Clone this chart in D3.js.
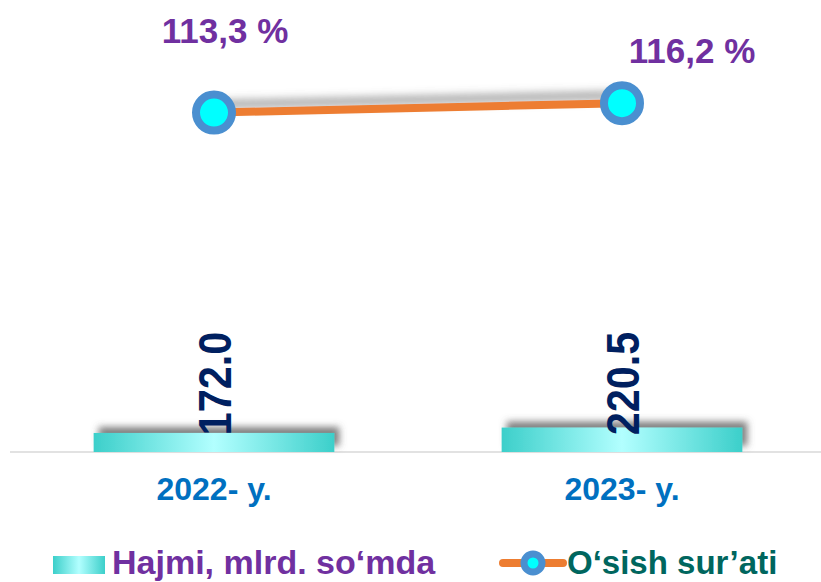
<!DOCTYPE html>
<html>
<head>
<meta charset="utf-8">
<script src="https://cdn.jsdelivr.net/npm/d3@7"></script>
<style>
  body { margin: 0; background: #fff; }
  text { font-family: "Liberation Sans", Arial, sans-serif; font-weight: bold; }
</style>
</head>
<body>
<div id="chart"></div>
<script>
let width = 821,
  height = 582

// data
let years = ['2022- y.', '2023- y.']
let volume = [172.0, 220.5]          // Hajmi, mlrd. so'mda
let growth = [113.3, 116.2]          // O'sish sur'ati, %
let volumeLabels = ['172.0', '220.5']
let growthLabels = ['113,3 %', '116,2 %']
let legendNames = ['Hajmi, mlrd. so‘mda', 'O‘sish sur’ati']

// the growth labels are nudged by hand in the original
let growthNudge = [[11, -70], [70, -40]]

let svg = d3.select('#chart')
  .append('svg')
  .attr('width', width)
  .attr('height', height)

let defs = svg.append('defs')

// cyan glassy fill, light in the middle
let grad = defs.append('linearGradient')
  .attr('id', 'barFill')
  .attr('x1', '0%').attr('x2', '100%')
  .attr('y1', '0%').attr('y2', '0%')
grad.append('stop').attr('offset', '0%').attr('stop-color', '#3ccfca')
grad.append('stop').attr('offset', '50%').attr('stop-color', '#b2ffff')
grad.append('stop').attr('offset', '100%').attr('stop-color', '#3ccfca')

// soft gray shadow, thrown up and to the right
let shadow = defs.append('filter')
  .attr('id', 'shadow')
  .attr('x', '-20%').attr('y', '-200%')
  .attr('width', '140%').attr('height', '500%')
shadow.append('feDropShadow')
  .attr('dx', 5).attr('dy', -6)
  .attr('stdDeviation', 3.5)
  .attr('flood-color', '#555')
  .attr('flood-opacity', 0.75)

let lineShadow = defs.append('filter')
  .attr('id', 'lineShadow')
  .attr('x', '-10%').attr('y', '-300%')
  .attr('width', '120%').attr('height', '700%')
lineShadow.append('feDropShadow')
  .attr('dx', 0).attr('dy', -8)
  .attr('stdDeviation', 4)
  .attr('flood-color', '#666')
  .attr('flood-opacity', 0.6)

// scales
let x = d3.scaleBand()
  .domain(years)
  .range([10, 826])
  .paddingInner(0.41)
  .paddingOuter(0.205)

let yBar = d3.scaleLinear()
  .domain([0, 3900])
  .range([452, 20])

let yLine = d3.scaleLinear()
  .domain([9.6, 141.6])
  .range([452, 20])

let cx = d => x(d) + x.bandwidth() / 2

// baseline
svg.append('line')
  .attr('x1', 10).attr('x2', width)
  .attr('y1', yBar(0)).attr('y2', yBar(0))
  .attr('stroke', '#d9d9d9')
  .attr('stroke-width', 1.5)

// bars
svg.selectAll('rect.bar')
  .data(volume)
  .enter().append('rect')
  .attr('class', 'bar')
  .attr('x', (d, i) => x(years[i]))
  .attr('y', d => yBar(d))
  .attr('width', x.bandwidth())
  .attr('height', d => yBar(0) - yBar(d))
  .attr('fill', 'url(#barFill)')
  .attr('filter', 'url(#shadow)')

// bar value labels, rotated
svg.selectAll('text.vol')
  .data(volumeLabels)
  .enter().append('text')
  .attr('class', 'vol')
  .attr('transform', (d, i) => `translate(${cx(years[i]) + 17},${yBar(0) - 68.5}) rotate(-90) scale(0.9,1)`)
  .attr('text-anchor', 'middle')
  .attr('font-size', 46)
  .attr('fill', '#002060')
  .text(d => d)

// x labels
svg.selectAll('text.year')
  .data(years)
  .enter().append('text')
  .attr('class', 'year')
  .attr('x', d => cx(d))
  .attr('y', 500)
  .attr('text-anchor', 'middle')
  .attr('font-size', 32)
  .attr('fill', '#0070c0')
  .text(d => d)

// growth line
let line = d3.line()
  .x((d, i) => cx(years[i]))
  .y(d => yLine(d))

svg.append('path')
  .datum(growth)
  .attr('d', line)
  .attr('fill', 'none')
  .attr('stroke', '#ed7d31')
  .attr('stroke-width', 8)
  .attr('filter', 'url(#lineShadow)')

svg.selectAll('circle.pt')
  .data(growth)
  .enter().append('circle')
  .attr('class', 'pt')
  .attr('cx', (d, i) => cx(years[i]))
  .attr('cy', d => yLine(d))
  .attr('r', 18)
  .attr('fill', '#00ffff')
  .attr('stroke', '#4a8fd0')
  .attr('stroke-width', 8)

svg.selectAll('text.growth')
  .data(growthLabels)
  .enter().append('text')
  .attr('class', 'growth')
  .attr('x', (d, i) => cx(years[i]) + growthNudge[i][0])
  .attr('y', (d, i) => yLine(growth[i]) + growthNudge[i][1])
  .attr('text-anchor', 'middle')
  .attr('font-size', 35)
  .attr('fill', '#7030a0')
  .text(d => d)

// legend (kept just clear of the bottom edge)
let legend = svg.append('g')

legend.append('rect')
  .attr('x', 53).attr('y', 556)
  .attr('width', 52).attr('height', 18)
  .attr('fill', 'url(#barFill)')

legend.append('text')
  .attr('x', 112).attr('y', 574)
  .attr('font-size', 34)
  .attr('fill', '#7030a0')
  .text(legendNames[0])

legend.append('line')
  .attr('x1', 503).attr('x2', 563)
  .attr('y1', 563).attr('y2', 563)
  .attr('stroke', '#ed7d31')
  .attr('stroke-width', 8)
  .attr('stroke-linecap', 'round')

legend.append('circle')
  .attr('cx', 533).attr('cy', 563)
  .attr('r', 9)
  .attr('fill', '#00ffff')
  .attr('stroke', '#4a8fd0')
  .attr('stroke-width', 7)

legend.append('text')
  .attr('x', 567).attr('y', 574)
  .attr('font-size', 33)
  .attr('fill', '#00665e')
  .text(legendNames[1])
</script>
</body>
</html>
